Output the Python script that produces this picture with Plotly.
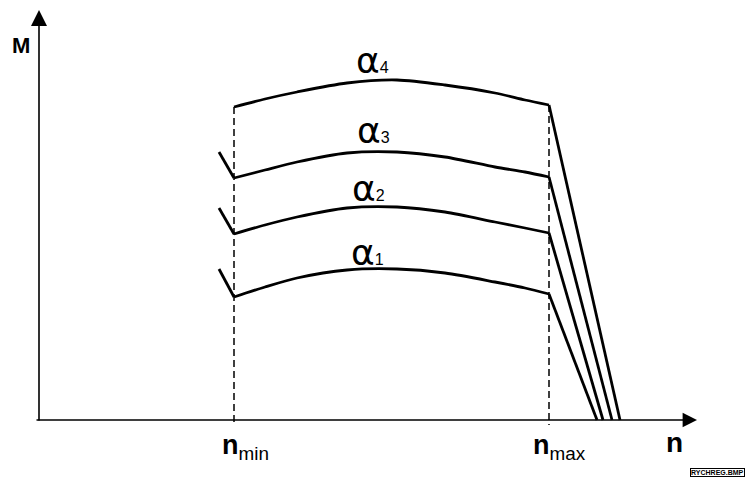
import plotly.graph_objects as go

# Speed points along each torque curve between n_min and n_max
n_curve = [195, 226, 258, 308, 358, 406, 456, 486, 510]
M_a4 = [313, 321, 328, 337, 340, 335, 327, 320, 315]
M_a3 = [242, 250, 258, 267, 268, 263, 253, 248, 243]
M_a2 = [186, 195, 203, 212, 213, 208, 198, 192, 187]
M_a1 = [123, 133, 142, 150, 151, 147, 138, 132, 126]

# Short start segments left of n_min (alpha1..alpha3) and drop-off points on the n axis
n_kink = 180
M_kink = {"a3": 268, "a2": 212, "a1": 151}
n_zero = {"a1": 558, "a2": 564, "a3": 573, "a4": 581}

n_min = 195
n_max = 510
n_arrow = 658
M_arrow = 410

curves = {"a4": M_a4, "a3": M_a3, "a2": M_a2, "a1": M_a1}
alpha_index = {"a4": "4", "a3": "3", "a2": "2", "a1": "1"}
# left edge / vertical centre of each curve label
alpha_pos = {"a4": (315, 360), "a3": (316, 290), "a2": (311, 232), "a1": (310, 168)}

fig = go.Figure()

black = "#000000"
FONT = "Liberation Sans, Arial, sans-serif"

# dashed guide lines at n_min and n_max
for nx, top in [(n_min, M_a4[0]), (n_max, M_a4[-1])]:
    fig.add_trace(go.Scatter(x=[nx, nx], y=[top, -5], mode="lines",
                             line=dict(color=black, width=1.5, dash="7px,4px"),
                             hoverinfo="skip"))

for key, M in curves.items():
    # smooth regulation curve
    fig.add_trace(go.Scatter(x=n_curve, y=M, mode="lines",
                             line=dict(color=black, width=2.8, shape="spline", smoothing=0.8),
                             hoverinfo="skip"))
    # steep drop to zero torque
    fig.add_trace(go.Scatter(x=[n_curve[-1], n_zero[key]], y=[M[-1], 0], mode="lines",
                             line=dict(color=black, width=2.8), hoverinfo="skip"))
    # start segment
    if key in M_kink:
        fig.add_trace(go.Scatter(x=[n_kink, n_curve[0]], y=[M_kink[key], M[0]], mode="lines",
                                 line=dict(color=black, width=2.8), hoverinfo="skip"))

annotations = []
# axes with arrows
annotations.append(dict(x=0, y=M_arrow, ax=0, ay=-2, xref="x", yref="y", axref="x", ayref="y",
                        showarrow=True, arrowhead=2, arrowsize=2.0, arrowwidth=1.6,
                        arrowcolor=black, text=""))
annotations.append(dict(x=n_arrow, y=0, ax=-4, ay=0, xref="x", yref="y", axref="x", ayref="y",
                        showarrow=True, arrowhead=2, arrowsize=1.8, arrowwidth=1.6,
                        arrowcolor=black, text=""))

# axis names
annotations.append(dict(x=-18, y=375, xref="x", yref="y", text="<b>M</b>", showarrow=False,
                        font=dict(family=FONT, size=22, color=black)))
annotations.append(dict(x=635, y=-22, xref="x", yref="y", text="<b>n</b>", showarrow=False,
                        font=dict(family=FONT, size=28, color=black)))

# n_min / n_max tick labels
for nx, sub in [(181, "min"), (492, "max")]:
    annotations.append(dict(x=nx, y=-27, xref="x", yref="y", xanchor="left", showarrow=False,
                            text="<b>n</b><sub>%s</sub>" % sub,
                            font=dict(family=FONT, size=27, color=black)))

# curve labels: large alpha with a small index sitting near its baseline
for key, (lx, ly) in alpha_pos.items():
    annotations.append(dict(
        x=lx, y=ly, xref="x", yref="y", xanchor="left", showarrow=False,
        text="<span style='font-family:DejaVu Sans;font-size:36px'>α</span>%s"
             % alpha_index[key],
        font=dict(family=FONT, size=16, color=black)))

# file tag in the corner
annotations.append(dict(x=651, y=-52, xref="x", yref="y", xanchor="left", showarrow=False,
                        text="<b>RYCHREG.BMP</b>", font=dict(family=FONT, size=7, color=black),
                        bordercolor=black, borderwidth=1, borderpad=0))

fig.update_layout(
    width=747, height=477,
    margin=dict(l=0, r=0, t=0, b=0),
    paper_bgcolor="white", plot_bgcolor="white",
    showlegend=False,
    xaxis=dict(range=[-39, 708], visible=False, fixedrange=True),
    yaxis=dict(range=[-57, 420], visible=False, fixedrange=True),
    annotations=annotations,
)

fig.write_html("out.html")
